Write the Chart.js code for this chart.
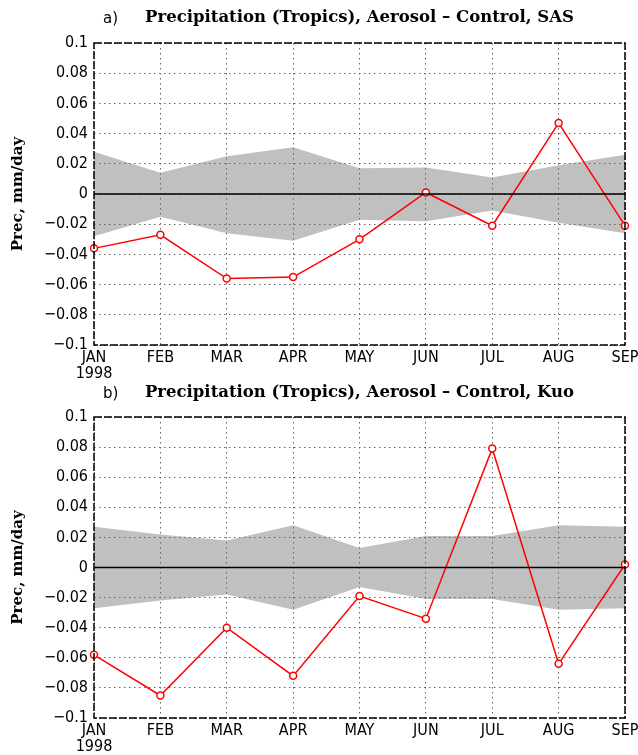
<!DOCTYPE html>
<html>
<head>
<meta charset="utf-8">
<script src="https://cdn.jsdelivr.net/npm/chart.js@4.4.1/dist/chart.umd.min.js"></script>
<style>
  body { margin: 0; background: #fff; }
  canvas { position: absolute; left: 0; }
  #canvasA { top: 0; }
  #canvasB { top: 380px; }
</style>
</head>
<body>
<canvas id="canvasA" width="638" height="380"></canvas>
<canvas id="canvasB" width="638" height="375"></canvas>
<script>
// months along the x axis, first one carries the year underneath
var months = ["JAN", "FEB", "MAR", "APR", "MAY", "JUN", "JUL", "AUG", "SEP"];
var yearLabel = "1998";
var yMin = -0.1, yMax = 0.1, yStep = 0.02;

// panel a) SAS
var sasDiff  = [-0.036, -0.027, -0.056, -0.055, -0.030, 0.001, -0.021, 0.047, -0.021];
var sasUpper = [0.028, 0.014, 0.025, 0.031, 0.017, 0.0175, 0.011, 0.019, 0.026];
var sasLower = [-0.028, -0.015, -0.026, -0.031, -0.017, -0.018, -0.011, -0.019, -0.026];

// panel b) Kuo
var kuoDiff  = [-0.058, -0.085, -0.040, -0.072, -0.019, -0.034, 0.079, -0.064, 0.002];
var kuoUpper = [0.027, 0.022, 0.018, 0.028, 0.013, 0.021, 0.021, 0.028, 0.027];
var kuoLower = [-0.027, -0.022, -0.018, -0.028, -0.013, -0.021, -0.021, -0.028, -0.027];

var tickFont = { family: "'DejaVu Sans Condensed', 'DejaVu Sans', sans-serif", size: 16, lineHeight: 1.0 };
var serifBold = "'DejaVu Serif', 'Liberation Serif', serif";
var titleSize = 16.5;

function fmtTick(v) {
    var r = Math.round(v * 100) / 100;
    return (r < 0 ? "\u2212" : "") + String(Math.abs(r));
}

// zero line, dashed frame and the panel letter
var framePlugin = {
    id: "frame",
    afterDraw: function(chart) {
        var ctx = chart.ctx, a = chart.chartArea;
        var y0 = chart.scales.y.getPixelForValue(0);
        ctx.save();
        ctx.strokeStyle = "#000";
        ctx.lineWidth = 1.5;
        ctx.beginPath();
        ctx.moveTo(a.left, y0);
        ctx.lineTo(a.right, y0);
        ctx.stroke();
        ctx.setLineDash([8, 2]);
        ctx.strokeRect(a.left, a.top, a.right - a.left, a.bottom - a.top);
        ctx.setLineDash([]);
        var tb = chart.titleBlock;
        var opts = chart.options.plugins.frame;
        ctx.fillStyle = "#000";
        ctx.font = "15px 'DejaVu Sans', sans-serif";
        ctx.textBaseline = "middle";
        ctx.textAlign = "left";
        ctx.fillText(opts.tag, a.left + 9, tb.top + tb.options.padding.top + titleSize * 0.6 + 1);
        ctx.restore();
    }
};

function makePanel(id, tag, title, diff, upper, lower, titlePad, xAxisHeight) {
    var labels = months.map(function(m, i) { return i === 0 ? [m, yearLabel] : m; });
    return new Chart(document.getElementById(id), {
        type: "line",
        data: {
            labels: labels,
            datasets: [
                {
                    data: upper,
                    borderWidth: 0,
                    pointRadius: 0,
                    backgroundColor: "#c0c0c0",
                    fill: "+1"
                },
                {
                    data: lower,
                    borderWidth: 0,
                    pointRadius: 0,
                    fill: false
                },
                {
                    data: diff,
                    borderColor: "#ff0000",
                    borderWidth: 1.5,
                    pointRadius: 3.5,
                    pointBorderWidth: 1.5,
                    pointBackgroundColor: "#ffffff",
                    pointBorderColor: "#ff0000",
                    fill: false
                }
            ]
        },
        options: {
            responsive: false,
            animation: false,
            layout: { padding: { left: 0, right: 13, top: 0, bottom: 0 } },
            plugins: {
                legend: { display: false },
                tooltip: { enabled: false },
                filler: { drawTime: "beforeDraw" },
                frame: { tag: tag },
                title: {
                    display: true,
                    fullSize: false,
                    text: title,
                    color: "#000",
                    font: { family: serifBold, size: titleSize, weight: "bold", lineHeight: 1.2 },
                    padding: titlePad
                }
            },
            scales: {
                x: {
                    grid: { color: "#666", lineWidth: 1, drawTicks: false },
                    border: { display: false, dash: [1.5, 3.5] },
                    ticks: { color: "#000", font: tickFont, padding: 5, maxRotation: 0, autoSkip: false },
                    afterFit: function(s) { s.height = xAxisHeight; s.paddingLeft = 0; s.paddingRight = 0; }
                },
                y: {
                    min: yMin,
                    max: yMax,
                    grid: { color: "#666", lineWidth: 1, drawTicks: false },
                    border: { display: false, dash: [1.5, 3.5] },
                    ticks: { stepSize: yStep, color: "#000", font: tickFont, padding: 6, callback: fmtTick },
                    title: {
                        display: true,
                        text: "Prec, mm/day",
                        color: "#000",
                        font: { family: serifBold, size: 15, weight: "bold", lineHeight: 1.2 },
                        padding: { top: 9, bottom: 0 }
                    },
                    afterFit: function(s) { s.width = 94; }
                }
            }
        },
        plugins: [framePlugin]
    });
}

makePanel("canvasA", "a)", "Precipitation (Tropics), Aerosol \u2013 Control, SAS",
    sasDiff, sasUpper, sasLower, { top: 8, bottom: 15.2 }, 35);
makePanel("canvasB", "b)", "Precipitation (Tropics), Aerosol \u2013 Control, Kuo",
    kuoDiff, kuoUpper, kuoLower, { top: 3, bottom: 14.2 }, 37);
</script>
</body>
</html>
